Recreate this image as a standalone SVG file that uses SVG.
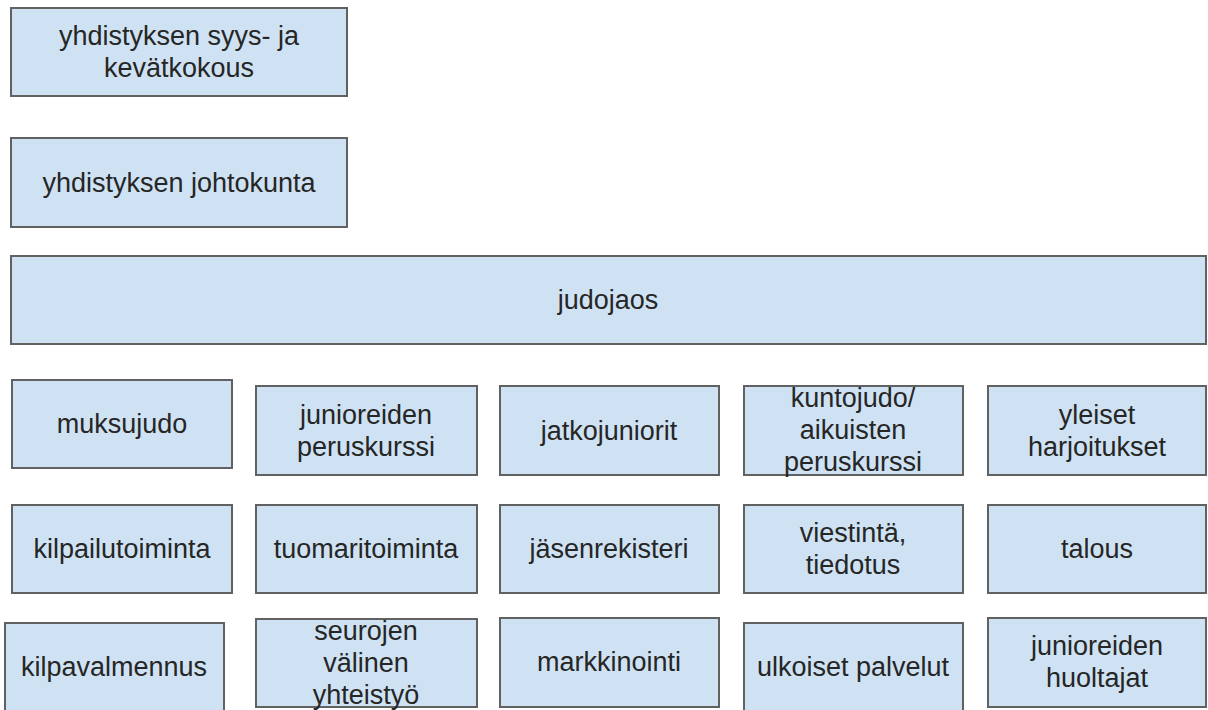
<svg xmlns="http://www.w3.org/2000/svg" width="1208" height="710" viewBox="0 0 1208 710">
<style>
.box{fill:#cfe2f3;stroke:#616161;stroke-width:2}
.t{font-family:"Liberation Sans",Arial,sans-serif;font-size:27px;fill:#262626;text-anchor:middle}
</style>
<rect width="1208" height="710" fill="#ffffff"/>
<g id="connectors"></g>
<g id="n1"><rect class="box" x="11" y="8" width="336" height="88"/><text class="t" x="179" y="45">yhdistyksen syys- ja</text><text class="t" x="179" y="77">kevätkokous</text></g>
<g id="n2"><rect class="box" x="11" y="138" width="336" height="89"/><text class="t" x="179" y="192">yhdistyksen johtokunta</text></g>
<g id="n3"><rect class="box" x="11" y="256" width="1195" height="88"/><text class="t" x="608" y="309">judojaos</text></g>

<g id="n4"><rect class="box" x="12" y="380" width="220" height="88"/><text class="t" x="122" y="433">muksujudo</text></g>
<g id="n5"><rect class="box" x="256" y="386" width="221" height="89"/><text class="t" x="366" y="424">junioreiden</text><text class="t" x="366" y="456">peruskurssi</text></g>
<g id="n6"><rect class="box" x="500" y="386" width="219" height="89"/><text class="t" x="609" y="440">jatkojuniorit</text></g>
<g id="n7"><rect class="box" x="744" y="386" width="219" height="89"/><text class="t" x="853" y="407">kuntojudo/</text><text class="t" x="853" y="439">aikuisten</text><text class="t" x="853" y="471">peruskurssi</text></g>
<g id="n8"><rect class="box" x="988" y="386" width="218" height="89"/><text class="t" x="1097" y="424">yleiset</text><text class="t" x="1097" y="456">harjoitukset</text></g>

<g id="n9"><rect class="box" x="12" y="505" width="220" height="88"/><text class="t" x="122" y="558">kilpailutoiminta</text></g>
<g id="n10"><rect class="box" x="256" y="505" width="221" height="88"/><text class="t" x="366" y="558">tuomaritoiminta</text></g>
<g id="n11"><rect class="box" x="500" y="505" width="219" height="88"/><text class="t" x="609" y="558">jäsenrekisteri</text></g>
<g id="n12"><rect class="box" x="744" y="505" width="219" height="88"/><text class="t" x="853" y="542">viestintä,</text><text class="t" x="853" y="574">tiedotus</text></g>
<g id="n13"><rect class="box" x="988" y="505" width="218" height="88"/><text class="t" x="1097" y="558">talous</text></g>

<g id="n14"><rect class="box" x="5" y="623" width="219" height="90"/><text class="t" x="114" y="676">kilpavalmennus</text></g>
<g id="n15"><rect class="box" x="256" y="619" width="221" height="88"/><text class="t" x="366" y="640">seurojen</text><text class="t" x="366" y="672">välinen</text><text class="t" x="366" y="704">yhteistyö</text></g>
<g id="n16"><rect class="box" x="500" y="618" width="219" height="89"/><text class="t" x="609" y="671">markkinointi</text></g>
<g id="n17"><rect class="box" x="744" y="623" width="219" height="90"/><text class="t" x="853" y="676">ulkoiset palvelut</text></g>
<g id="n18"><rect class="box" x="988" y="618" width="218" height="89"/><text class="t" x="1097" y="655">junioreiden</text><text class="t" x="1097" y="687">huoltajat</text></g>
</svg>
